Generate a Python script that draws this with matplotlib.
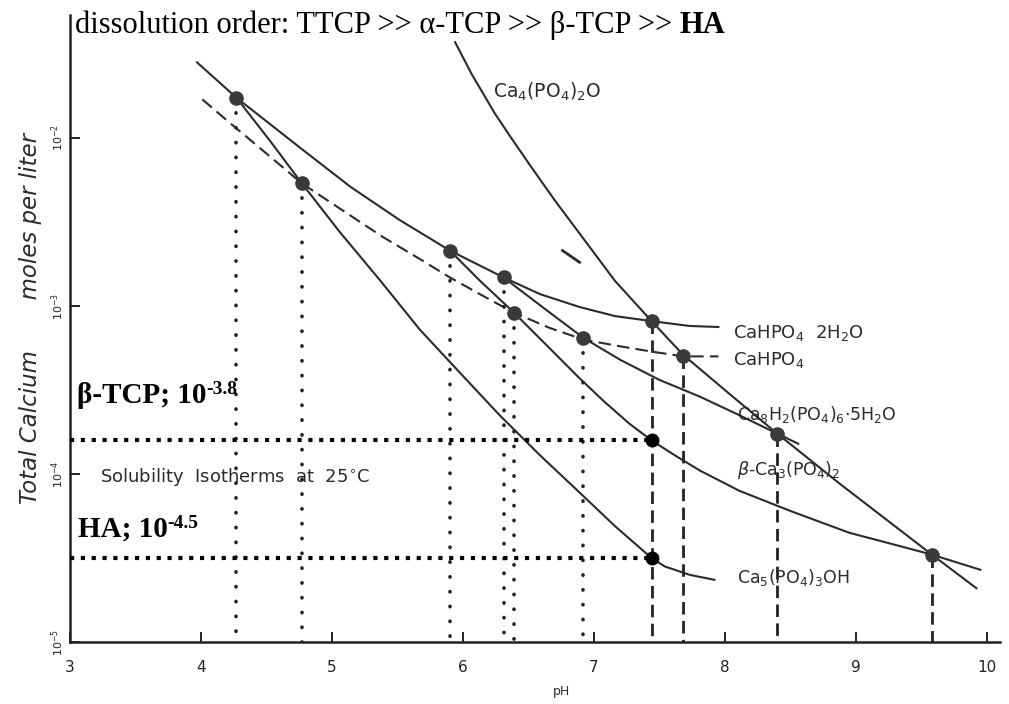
import numpy as np
import matplotlib
matplotlib.use('Agg')
import matplotlib.pyplot as plt

# solubility isotherms at 25 C: pH against log10(total calcium, mol/L)
ttcp_ph = [5.94, 6.00, 6.07, 6.15, 6.24, 6.36, 6.51, 6.70, 6.93, 7.16, 7.44,
           7.68, 8.06, 8.40, 8.88, 9.58, 9.92]
ttcp_log = [-1.43, -1.52, -1.625, -1.73, -1.85, -1.99, -2.16, -2.37, -2.61, -2.85, -3.09,
            -3.29, -3.54, -3.76, -4.06, -4.48, -4.68]

dcpd_ph = [3.97, 4.27, 4.76, 5.14, 5.52, 5.90, 6.31, 6.59, 6.89, 7.16, 7.44, 7.73, 7.95]
dcpd_log = [-1.55, -1.76, -2.06, -2.29, -2.49, -2.67, -2.83, -2.93, -3.006, -3.06, -3.09,
            -3.119, -3.125]

dcpa_ph = [4.01, 4.22, 4.45, 4.77, 5.06, 5.39, 5.67, 5.90, 6.13, 6.39, 6.66, 6.92,
           7.20, 7.43, 7.68, 7.95]
dcpa_log = [-1.77, -1.91, -2.06, -2.27, -2.42, -2.59, -2.72, -2.83, -2.93, -3.04, -3.13,
            -3.20, -3.24, -3.27, -3.30, -3.30]

ocp_ph = [6.31, 6.63, 6.92, 7.20, 7.50, 7.81, 8.11, 8.40, 8.56]
ocp_log = [-2.83, -3.02, -3.19, -3.32, -3.44, -3.54, -3.65, -3.76, -3.82]

btcp_ph = [5.90, 6.13, 6.39, 6.66, 6.89, 7.08, 7.27, 7.44, 7.62, 7.81, 8.11, 8.50,
           8.95, 9.34, 9.58, 9.95]
btcp_log = [-2.67, -2.85, -3.04, -3.25, -3.43, -3.57, -3.70, -3.80, -3.89, -3.98, -4.10,
            -4.22, -4.35, -4.43, -4.48, -4.57]

ha_ph = [4.27, 4.53, 4.77, 5.06, 5.37, 5.67, 5.98, 6.28, 6.59, 6.89, 7.16, 7.44, 7.54,
         7.73, 7.92]
ha_log = [-1.76, -2.02, -2.27, -2.56, -2.85, -3.14, -3.40, -3.65, -3.89, -4.11, -4.31,
          -4.50, -4.55, -4.60, -4.63]

# singular points where two isotherms cross
sing_ph = [4.27, 4.77, 5.90, 6.31, 6.39, 6.92, 7.44, 7.68, 8.40, 9.58]
sing_log = [-1.76, -2.27, -2.67, -2.83, -3.04, -3.19, -3.09, -3.30, -3.76, -4.48]
sing_drop = ['dot', 'dot', 'dot', 'dot', 'dot', 'dot', 'dash', 'dash', 'dash', 'dash']

# physiological pH read-off
read_ph = 7.44
btcp_level = -3.8
ha_level = -4.5

ink = '#2b2b2b'
serif = 'Liberation Serif'

fig = plt.figure(figsize=(10.09, 7.04), dpi=100)
ax = fig.add_axes([70/1009, 1 - 642/704, 930/1009, 627/704])
ax.set_yscale('log')
ax.set_xlim(3, 10.1)
ax.set_ylim(1e-5, 10**-1.268)
ymin = 1e-5

def c(v):
    return 10**np.asarray(v, dtype=float)

lw = 1.5
ax.plot(ttcp_ph, c(ttcp_log), color=ink, lw=lw)
ax.plot(dcpd_ph, c(dcpd_log), color=ink, lw=lw)
ax.plot(dcpa_ph, c(dcpa_log), color=ink, lw=lw, ls=(0, (6, 3)))
ax.plot(ocp_ph, c(ocp_log), color=ink, lw=lw)
ax.plot(btcp_ph, c(btcp_log), color=ink, lw=lw)
ax.plot(ha_ph, c(ha_log), color=ink, lw=lw)
ax.plot([6.76, 6.89], c([-2.67, -2.74]), color=ink, lw=2)

# drop lines from the singular points to the pH axis
for x, y, kind in zip(sing_ph, sing_log, sing_drop):
    if kind == 'dot':
        ax.plot([x, x], [c(y), ymin], color='#222222', lw=2.6,
                ls=(0, (0.1, 4)), dash_capstyle='round')
    else:
        ax.plot([x, x], [c(y), ymin], color='#222222', lw=2.0,
                ls=(0, (4.5, 2.3)), dash_capstyle='butt')
ax.plot(sing_ph, c(sing_log), 'o', ms=9.5, color='#3a3a3a', zorder=5)

# solubility of beta-TCP and HA at pH 7.4
for lev in [btcp_level, ha_level]:
    ax.plot([3, read_ph], [c(lev), c(lev)], color='black', lw=3,
            ls=(0, (1, 1.6)), dash_capstyle='butt', zorder=4)
    ax.plot([read_ph], [c(lev)], 'o', ms=9, color='black', zorder=6)

# curve labels
lab = dict(color=ink, fontsize=12.5, family='DejaVu Sans', va='baseline')
ax.text(6.23, c(-1.762), r'Ca$_4$(PO$_4$)$_2$O', **dict(lab, fontsize=13.5))
ax.text(8.06, c(-3.19), r'CaHPO$_4$  2H$_2$O', **dict(lab, fontsize=13))
ax.text(8.06, c(-3.35), r'CaHPO$_4$', **dict(lab, fontsize=13))
ax.text(8.09, c(-3.68), r'Ca$_8$H$_2$(PO$_4$)$_6$$\cdot$5H$_2$O', **lab)
ax.text(8.09, c(-4.006), r'$\beta$-Ca$_3$(PO$_4$)$_2$', **lab)
ax.text(8.09, c(-4.65), r'Ca$_5$(PO$_4$)$_3$OH', **lab)
ax.text(3.23, c(-4.05), 'Solubility  Isotherms  at  25$^{\\circ}$C', **dict(lab, fontsize=13))

# value labels for the read-off lines
t1 = ax.text(3.05, c(-3.577), 'β-TCP; 10', family=serif, fontweight='bold',
             fontsize=21, va='baseline', color='black')
ax.annotate('-3.8', xy=(1, 1), xycoords=t1, xytext=(0, 1), textcoords='offset points',
            family=serif, fontweight='bold', fontsize=14, va='top', ha='left')
t2 = ax.text(3.06, c(-4.375), 'HA; 10', family=serif, fontweight='bold',
             fontsize=21, va='baseline', color='black')
ax.annotate('-4.5', xy=(1, 1), xycoords=t2, xytext=(0, 1), textcoords='offset points',
            family=serif, fontweight='bold', fontsize=14, va='top', ha='left')

# axes styling
for s in ['top', 'right']:
    ax.spines[s].set_visible(False)
for s in ['left', 'bottom']:
    ax.spines[s].set_linewidth(1.8)
    ax.spines[s].set_color('#222222')
ax.set_xticks(range(3, 11))
ax.set_yticks([1e-5, 1e-4, 1e-3, 1e-2])
ax.minorticks_off()
ax.tick_params(axis='both', direction='in', length=7, width=1.4, colors='#222222')
ax.tick_params(axis='x', pad=13, labelsize=11)
ax.tick_params(axis='y', pad=3, labelsize=8)
for t in ax.get_yticklabels():
    t.set_rotation(90)
    t.set_va('center')

fig.text(553/1009, 1 - 695/704, 'pH', fontsize=9, color=ink)
fig.text(31/1009, 1 - 318/704, 'Total Calcium       moles per liter', rotation=90,
         fontsize=16.5, style='italic', color=ink, ha='center', va='center')

t3 = fig.text(75/1009, 1 - 33/704, 'dissolution order: TTCP >> α-TCP >> β-TCP >> ',
              family=serif, fontsize=22, va='baseline')
plt.annotate('HA', xy=(1, 0), xycoords=t3, family=serif, fontweight='bold',
             fontsize=22, va='bottom', ha='left')

fig.savefig('out.png', dpi=100)
